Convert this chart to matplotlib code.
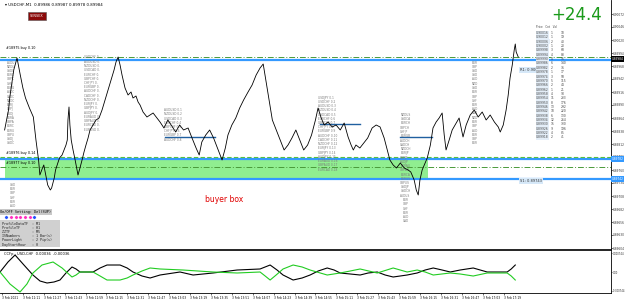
import matplotlib
matplotlib.use("Agg")
import matplotlib.pyplot as plt
from matplotlib.patches import Rectangle

# ---- data (minutes after 10:55, price) ----
t_price = [2, 5, 6, 9, 11.5, 14, 16, 18, 21, 24, 26, 28, 29, 31, 32, 34, 35, 37, 38, 40,
           41, 43, 44, 46, 47.5, 49, 50, 50.5, 51.3, 52, 53, 54.4, 56, 57.5, 58.2, 59.7, 61.3, 62.8, 64.3, 65.9,
           67.4, 69.7, 72, 74.3, 76.6, 78.9, 81.2, 83.5, 85.8, 87.3, 88.9, 90.4, 91.9, 94.2, 96.5, 98.8, 100.3, 102.6, 104.2, 105.7,
           108, 111, 113.4, 115.7, 118.7, 121, 124, 127, 130, 133, 136, 139, 142.5, 145.5, 148.6, 151, 153, 156, 159, 162,
           165.5, 168.5, 171, 173, 176, 179, 182, 185, 188.4, 191.5, 194.6, 197.6, 200, 202, 204.5, 207, 210, 213, 216, 219,
           222, 225, 228, 231, 234, 237, 240, 242, 244.4, 246.7, 249.7, 252.8, 255.8, 259, 262, 265, 267.3, 269, 271, 274,
           277, 280, 283.4, 286.5, 289.5, 292.6, 295, 297, 299.5, 302, 305, 308, 311, 313, 315.6, 317.2, 318.7, 320, 321.7, 323.3,
           325.6, 328, 330, 332.4, 334.7, 337, 338.6, 340, 342.4, 344.7, 347.8, 350, 351.6, 353, 355.4, 358.5, 361.6, 364.6, 367.7, 370.7,
           373.8, 377, 380, 381.5, 383.8, 386, 387.6, 389, 390.7, 392.2, 393, 393.7, 395.3]
price = [0.89840, 0.89880, 0.89906, 0.89960, 0.89984, 0.89950, 0.89924, 0.89904, 0.89884, 0.89866, 0.89820, 0.89780, 0.89750, 0.89764, 0.89770, 0.89744, 0.89730, 0.89720, 0.89724, 0.89744,
         0.89760, 0.89776, 0.89784, 0.89790, 0.89800, 0.89810, 0.89820, 0.89860, 0.89886, 0.89850, 0.89820, 0.89800, 0.89780, 0.89760, 0.89750, 0.89764, 0.89780, 0.89796, 0.89810, 0.89824,
         0.89840, 0.89850, 0.89860, 0.89864, 0.89880, 0.89900, 0.89920, 0.89940, 0.89960, 0.89976, 0.89986, 0.89970, 0.89950, 0.89924, 0.89910, 0.89916, 0.89904, 0.89908, 0.89896, 0.89890,
         0.89876, 0.89866, 0.89870, 0.89874, 0.89864, 0.89856, 0.89844, 0.89860, 0.89848, 0.89836, 0.89850, 0.89840, 0.89844, 0.89824, 0.89804, 0.89790, 0.89816, 0.89830, 0.89840, 0.89824,
         0.89800, 0.89780, 0.89804, 0.89830, 0.89850, 0.89864, 0.89884, 0.89900, 0.89916, 0.89930, 0.89950, 0.89964, 0.89972, 0.89940, 0.89900, 0.89860, 0.89840, 0.89820, 0.89800, 0.89810,
         0.89824, 0.89840, 0.89820, 0.89800, 0.89810, 0.89830, 0.89860, 0.89884, 0.89864, 0.89850, 0.89856, 0.89846, 0.89850, 0.89840, 0.89854, 0.89826, 0.89810, 0.89800, 0.89810, 0.89804,
         0.89814, 0.89824, 0.89844, 0.89850, 0.89846, 0.89824, 0.89800, 0.89780, 0.89770, 0.89764, 0.89774, 0.89764, 0.89760, 0.89756, 0.89740, 0.89720, 0.89710, 0.89740, 0.89760, 0.89770,
         0.89784, 0.89810, 0.89844, 0.89856, 0.89864, 0.89874, 0.89830, 0.89800, 0.89820, 0.89840, 0.89854, 0.89864, 0.89844, 0.89826, 0.89850, 0.89870, 0.89880, 0.89866, 0.89876, 0.89860,
         0.89870, 0.89856, 0.89846, 0.89836, 0.89850, 0.89880, 0.89910, 0.89944, 0.89970, 0.90000, 0.90012, 0.89996, 0.89986]

# CCFp indicator
t_usd = [-1.5, 4.6, 10.0, 16.8, 23.7, 29.1, 34.5, 39.8, 44.4, 49.0, 53.6, 56.7, 59.7, 69.7, 75.1, 80.4, 90.4, 95.8, 100.3, 107.2,
         113.4, 121.0, 136.3, 146.3, 161.6, 180.0, 197.6, 205.3, 210.6, 215.2, 222.9, 229.8, 235.9, 242.1, 249.0, 254.3, 258.9, 266.6, 274.2, 280.4,
         287.3, 293.4, 299.5, 310.2, 317.9, 324.0, 330.2, 337.0, 343.2, 350.8, 360.8, 371.5, 381.5, 386.8, 389.9, 393.0]
usd = [0, 0.000392, 0.000666, 0.000274, -0.000118, -0.000353, -0.000431, -0.000392, -0.000314, -0.000039, 0.000196, 0.000118, 0, 0, 0.000157, 0.000274, 0.000274, 0.000157, 0, -0.000157,
       -0.000235, -0.000118, 0, -0.000118, -0.000039, 0.000078, 0.000118, 0.000274, 0.000078, -0.000118, -0.000314, -0.000235, -0.000118, 0.000039, 0.000157, 0.000078, -0.000039, -0.000078, -0.000118, -0.000039,
       0, -0.000118, -0.000196, -0.000118, -0.000039, 0.000078, 0.000157, 0.000078, 0, 0.000078, 0.000157, 0, 0, 0, 0.000118, 0.000274]
t_chf = [-1.5, 6.1, 13.8, 19.1, 23.7, 30.6, 39.1, 46.0, 53.6, 56.7, 59.7, 69.7, 75.1, 80.4, 90.4, 95.8, 100.3, 107.2, 113.4, 121.0,
         138.6, 161.6, 180.0, 197.6, 201.5, 205.3, 209.9, 215.2, 222.9, 229.8, 235.9, 249.0, 258.9, 266.6, 274.2, 287.3, 299.5, 310.2, 317.9, 324.0,
         330.2, 343.2, 350.8, 360.8, 371.5, 386.8, 389.9, 393.0]
chf = [0, -0.000470, -0.000784, -0.000470, -0.000039, 0.000274, 0.000392, 0.000157, -0.000196, -0.000118, 0, 0, -0.000157, -0.000314, -0.000314, -0.000235, -0.000118, 0.000039, 0.000157, 0.000118,
       0.000078, 0, -0.000039, 0, -0.000157, -0.000314, -0.000118, 0.000118, 0.000274, 0.000196, 0.000078, -0.000118, -0.000039, 0.000039, 0.000118, -0.000039, 0.000157, 0, 0.000078, 0,
       -0.000118, -0.000039, -0.000078, -0.000157, -0.000039, -0.000039, -0.000157, -0.000314]

time_labels = ["3 Feb 2021"] + ["3 Feb %d:%02d" % divmod(11 * 60 + 11 + 16 * k, 60) for k in range(24)]
price_ticks = [round(0.90072 - 0.00026 * k, 5) for k in range(19)]

box_t = (2.3, 326.0)
box_p = (0.89742, 0.89784)
levels_blue = [0.89980, 0.89782, 0.89742]
levels_green_dd = [0.89986, 0.89766]
level_green_dash = 0.89786
short_levels = [(125, 163, 0.89826), (243.6, 274, 0.89852), (305, 329, 0.89826)]

table_prices = [0.90016, 0.90012, 0.90006, 0.90002, 0.89998, 0.89994, 0.89990, 0.89986, 0.89982, 0.89978,
                0.89974, 0.89970, 0.89966, 0.89962, 0.89958, 0.89954, 0.89950, 0.89946, 0.89942, 0.89938,
                0.89934, 0.89930, 0.89926, 0.89922, 0.89918]
table_cnt = [1, 1, 2, 1, 3, 4, 4, 6, 2, 1, 3, 5, 2, 1, 4, 11, 8, 13, 10, 6, 12, 15, 9, 4, 2]
table_vol = [18, 19, 40, 20, 68, 88, 91, 140, 36, 17, 58, 115, 44, 21, 90, 233, 176, 292, 220, 130, 264, 330, 196, 85, 41]

XL = (-1.53, 466.3)
LINE_BLUE = "#3399ff"
TICK_FS = 2.1

fig = plt.figure(figsize=(6.25, 3.01), dpi=100)
ax = fig.add_axes([0, 1 - 250 / 301, 611 / 625, 250 / 301])
ax2 = fig.add_axes([0, 1 - 293 / 301, 611 / 625, 42 / 301])

# ---- main panel ----
ax.set_xlim(*XL)
ax.set_ylim(0.89600, 0.90100)
ax.add_patch(Rectangle((box_t[0], box_p[0]), box_t[1] - box_t[0], box_p[1] - box_p[0],
                       facecolor="#90ee90", edgecolor="none", zorder=1))
for lv in levels_blue:
    ax.axhline(lv, color=LINE_BLUE, lw=1.6, zorder=2)
for lv in levels_green_dd:
    ax.axhline(lv, color="#4a9a3a", lw=0.7, ls=(0, (6, 2, 1, 2)), zorder=2)
ax.axhline(level_green_dash, color="#55c040", lw=0.8, ls=(0, (4, 2)), zorder=2)
for t0, t1, lv in short_levels:
    ax.plot([t0, t1], [lv, lv], color="#2060a0", lw=1.0, zorder=2)
ax.plot(t_price, price, color="black", lw=0.6, zorder=4)

ax.yaxis.tick_right()
ax.set_yticks(price_ticks)
ax.set_yticklabels(["%.5f" % p for p in price_ticks], fontsize=TICK_FS, color="#333333")
ax.tick_params(axis="y", length=1.2, width=0.4, pad=0.4)
ax.set_xticks([])
for s in ["top", "left"]:
    ax.spines[s].set_visible(False)
ax.spines["right"].set_linewidth(0.6)
ax.spines["bottom"].set_linewidth(1.2)

# price tags on the axis
tag_kw = dict(transform=ax.get_yaxis_transform(), fontsize=TICK_FS, color="white", va="center", ha="left", clip_on=False)
ax.text(1.0015, 0.89982, "0.89984", bbox=dict(boxstyle="square,pad=0.2", fc="black", ec="none"), **tag_kw)
for lv in [0.89782, 0.89742]:
    ax.text(1.0015, lv, "%.5f" % lv, bbox=dict(boxstyle="square,pad=0.2", fc=LINE_BLUE, ec="none"), **tag_kw)

# header and labels
ax.text(0.008, 0.988, "\u25be USDCHF,M1  0.89986 0.89987 0.89978 0.89984", transform=ax.transAxes,
        fontsize=2.8, va="top", ha="left")
ax.text(0.06, 0.935, "SENSEX", transform=ax.transAxes, fontsize=2.4, color="white", va="center", ha="center",
        bbox=dict(boxstyle="square,pad=0.6", fc="#8b0a0a", ec="#555555", lw=0.4))
ax.text(0.985, 0.94, "+24.4", transform=ax.transAxes, fontsize=12, color="#1a9a1a", va="center", ha="right")
ax.text(3, 0.90000, "#18975 buy 0.10", fontsize=2.4, va="bottom", ha="left")
ax.text(3, 0.89790, "#18976 buy 0.14", fontsize=2.4, va="bottom", ha="left")
ax.text(3, 0.89770, "#18977 buy 0.10", fontsize=2.4, va="bottom", ha="left")
ax.text(170, 0.89700, "buyer box", fontsize=5.5, color="#e00000", ha="center", va="center")
ax.text(397, 0.89960, "R1: 0.90001", fontsize=2.6, color="#333333", ha="left", va="center",
        bbox=dict(boxstyle="square,pad=0.3", fc="#d6e8f8", ec="none"))
ax.text(397, 0.89738, "S1: 0.89743", fontsize=2.6, color="#333333", ha="left", va="center",
        bbox=dict(boxstyle="square,pad=0.3", fc="#d6e8f8", ec="none"))

# order-flow style text columns
pairs = ["EURUSD", "GBPUSD", "USDJPY", "USDCHF", "AUDUSD", "NZDUSD", "USDCAD", "EURCHF", "GBPCHF", "CHFJPY",
         "EURGBP", "AUDCHF", "CADCHF", "NZDCHF", "EURJPY", "GBPJPY", "AUDJPY", "EURAUD", "GBPAUD", "EURCAD"]
cols = [(4, 0.89975, 20, 4), (63, 0.89985, 18, 9), (124, 0.89880, 8, 12), (242, 0.89905, 18, 12),
        (305, 0.89870, 20, 5), (360, 0.89975, 20, 3), (6, 0.89730, 6, 3), (307, 0.89700, 6, 3)]
for x0, y0, n, w in cols:
    for k in range(n):
        name = pairs[(k + int(x0)) % len(pairs)]
        txt = (name + " 0.%d" % (k + 1))[:w] if w > 6 else name[:w]
        ax.text(x0, y0 - k * 0.0000850, txt, fontsize=2.1, color="#7a7a7a", va="center", ha="left", zorder=3)

# volume table on the right
for k, (p, c, v) in enumerate(zip(table_prices, table_cnt, table_vol)):
    yy = 0.90034 - k * 0.0000870
    ax.text(409, yy, "%.5f" % p, fontsize=2.2, color="#444444", va="center", ha="left",
            bbox=dict(boxstyle="square,pad=0.15", fc="#e4eef8", ec="none"))
    ax.text(420, yy, str(c), fontsize=2.2, color="#444444", va="center", ha="left")
    ax.text(428, yy, str(v), fontsize=2.2, color="#444444", va="center", ha="left")
ax.text(409, 0.90046, "Price   Cnt   Vol", fontsize=2.0, color="#444444", va="center", ha="left")

# settings panel
ax.text(0.0, 0.152, "On/OFF Setting: Del(SUP)", transform=ax.transAxes, fontsize=2.6, family="DejaVu Sans Mono",
        va="center", ha="left", bbox=dict(boxstyle="square,pad=0.4", fc="#c8c8c8", ec="none"))
dot_cols = ["#2050ff", "#ff30c0", "#ff30c0", "#ff30c0", "#ff30c0", "#ff30c0", "#2050ff"]
for k, c in enumerate(dot_cols):
    ax.plot(3.2 + k * 3.6, 0.89666, "o", ms=2.4, color=c, mec="white", mew=0.2, clip_on=False)
ax.add_patch(Rectangle((0.0, 0.012), 0.098, 0.108, transform=ax.transAxes, fc="#d0d0d0", ec="none"))
settings = ["ProfileDataTF  : M1", "ProfileTF      : H1", "ZZTF           : M5",
            "ISNumbers      : 1 Bar(s)", "PowerLight     : 2 Pip(s)", "DayStartHour   : 0"]
for k, s in enumerate(settings):
    ax.text(0.004, 0.104 - k * 0.0165, s, transform=ax.transAxes, fontsize=2.4, family="DejaVu Sans Mono",
            va="center", ha="left", color="#222222")

# ---- indicator panel ----
ax2.set_xlim(*XL)
ax2.set_ylim(-0.000823, 0.000823)
ax2.plot(t_usd, usd, color="black", lw=0.8)
ax2.plot(t_chf, chf, color="#22cc22", lw=0.8)
ax2.yaxis.tick_right()
ax2.set_yticks([0.000744, 0.0, -0.000744])
ax2.set_yticklabels(["0.000744", "0.00", "-0.000744"], fontsize=1.8, color="#333333")
ax2.tick_params(axis="y", length=1.0, width=0.4, pad=0.3)
ax2.set_xticks([16 * k for k in range(25)])
ax2.set_xticklabels(time_labels, fontsize=2.1, ha="left")
ax2.tick_params(axis="x", length=1.5, width=0.4, pad=0.8)
for s in ["top", "left"]:
    ax2.spines[s].set_visible(False)
ax2.spines["right"].set_linewidth(0.6)
ax2.spines["bottom"].set_linewidth(0.6)
ax2.text(0.006, 0.97, "CCFp - USD,CHF  0.00036  -0.00036", transform=ax2.transAxes, fontsize=2.6, va="top", ha="left")

fig.savefig("out.png", dpi=100)
